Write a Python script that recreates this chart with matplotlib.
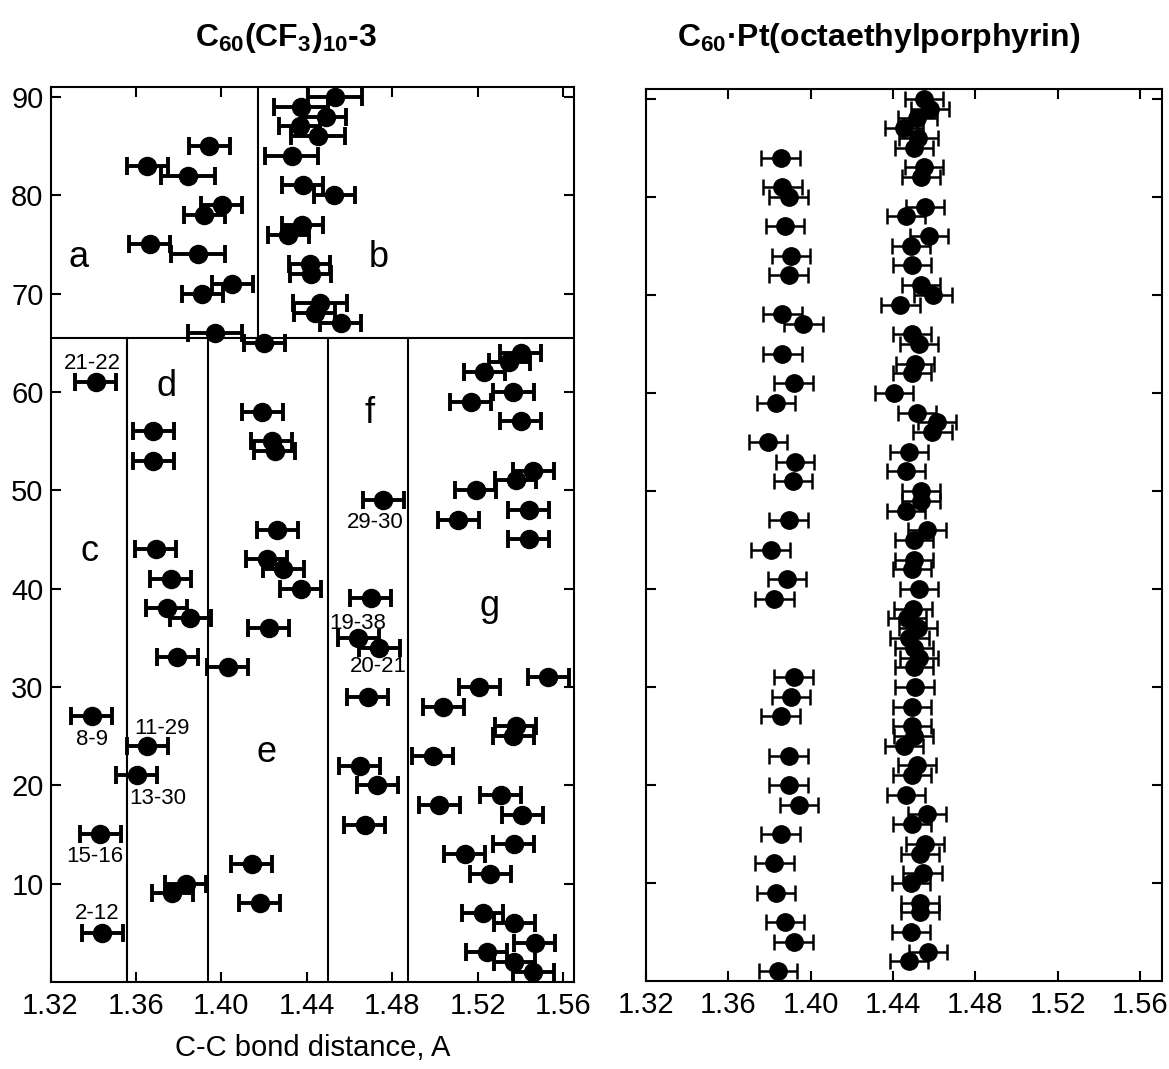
import matplotlib
matplotlib.use('Agg')
import matplotlib.pyplot as plt
import numpy as np

plt.rcParams['font.family'] = ['Liberation Sans', 'DejaVu Sans']
plt.rcParams['mathtext.default'] = 'regular'

# C60(CF3)10-3: bond length for bonds 1..90
cf3_len = [
    1.5459, 1.5370, 1.5241, 1.5467, 1.3442, 1.5370, 1.5222, 1.4180, 1.3770, 1.3833,
    1.5259, 1.4141, 1.5139, 1.5368, 1.3432, 1.4671, 1.5409, 1.5019, 1.5308, 1.4729,
    1.3603, 1.4648, 1.4988, 1.3653, 1.5365, 1.5378, 1.3393, 1.5038, 1.4684, 1.5206,
    1.5529, 1.4029, 1.3793, 1.4738, 1.4640, 1.4222, 1.3853, 1.3744, 1.4699, 1.4371,
    1.3762, 1.4289, 1.4211, 1.3692, 1.5439, 1.4261, 1.5108, 1.5439, 1.4757, 1.5191,
    1.5378, 1.5459, 1.3681, 1.4250, 1.4235, 1.3681, 1.5400, 1.4191, 1.5167, 1.5365,
    1.3411, 1.5229, 1.5347, 1.5400, 1.4200, 1.3970, 1.4559, 1.4437, 1.4461, 1.3910,
    1.4051, 1.4419, 1.4414, 1.3892, 1.3664, 1.4313, 1.4378, 1.3920, 1.4001, 1.4528,
    1.4380, 1.3845, 1.3653, 1.4328, 1.3942, 1.4453, 1.4367, 1.4489, 1.4372, 1.4531,
]
cf3_err = [
    0.0096, 0.0096, 0.0096, 0.0096, 0.0096, 0.0096, 0.0096, 0.0096, 0.0096, 0.0096,
    0.0096, 0.0096, 0.0096, 0.0096, 0.0096, 0.0096, 0.0096, 0.0096, 0.0096, 0.0096,
    0.0096, 0.0096, 0.0096, 0.0096, 0.0096, 0.0096, 0.0096, 0.0096, 0.0096, 0.0096,
    0.0096, 0.0096, 0.0096, 0.0096, 0.0096, 0.0096, 0.0096, 0.0096, 0.0096, 0.0096,
    0.0096, 0.0096, 0.0096, 0.0096, 0.0096, 0.0096, 0.0096, 0.0096, 0.0096, 0.0096,
    0.0096, 0.0096, 0.0096, 0.0096, 0.0096, 0.0096, 0.0096, 0.0096, 0.0096, 0.0096,
    0.0096, 0.0096, 0.0096, 0.0096, 0.0096, 0.0126, 0.0096, 0.0096, 0.0126, 0.0096,
    0.0096, 0.0096, 0.0096, 0.0126, 0.0096, 0.0096, 0.0096, 0.0096, 0.0096, 0.0096,
    0.0096, 0.0126, 0.0096, 0.0126, 0.0096, 0.0126, 0.0096, 0.0096, 0.0126, 0.0126,
]

# C60.Pt(OEP): bond length for bonds 1..90
pt_len = [
    1.3842, 1.4477, 1.4569, 1.3917, 1.4486, 1.3876, 1.4533, 1.4533, 1.3833, 1.4486,
    1.4544, 1.3824, 1.4533, 1.4557, 1.3854, 1.4494, 1.4565, 1.3943, 1.4464, 1.3893,
    1.4494, 1.4516, 1.3893, 1.4455, 1.4500, 1.4494, 1.3854, 1.4494, 1.3904, 1.4505,
    1.3917, 1.4503, 1.4525, 1.4503, 1.4480, 1.4521, 1.4468, 1.4498, 1.3824, 1.4525,
    1.3885, 1.4494, 1.4503, 1.3805, 1.4503, 1.4565, 1.3893, 1.4464, 1.4536, 1.4536,
    1.3913, 1.4464, 1.3925, 1.4477, 1.3792, 1.4592, 1.4613, 1.4516, 1.3833, 1.4406,
    1.3917, 1.4494, 1.4507, 1.3863, 1.4526, 1.4494, 1.3965, 1.3863, 1.4436, 1.4596,
    1.4536, 1.3893, 1.4494, 1.3904, 1.4486, 1.4574, 1.3876, 1.4464, 1.4557, 1.3893,
    1.3863, 1.4536, 1.4552, 1.3854, 1.4502, 1.4524, 1.4454, 1.4519, 1.4581, 1.4552,
]
pt_err = 0.0093

bond_no = np.arange(1, len(cf3_len) + 1)

# region letters and bond labels (text, x, y)
regions = [('a', 1.3330, 73.7), ('b', 1.4738, 73.7), ('c', 1.3382, 43.8),
           ('d', 1.3744, 60.5), ('e', 1.4211, 23.3), ('f', 1.4695, 57.8),
           ('g', 1.5256, 38.2)]
bond_labels = [('21-22', 1.3397, 62.9), ('29-30', 1.4721, 46.7),
               ('19-38', 1.4640, 36.4), ('20-21', 1.4734, 32.05),
               ('8-9', 1.3393, 24.7), ('11-29', 1.3720, 25.75),
               ('13-30', 1.3704, 18.65), ('15-16', 1.3408, 12.8),
               ('2-12', 1.3419, 7.0)]
split_y = 65.45
split_top_x = 1.4171
split_low_x = [1.3556, 1.3938, 1.4497, 1.4874]

xticks = [1.32, 1.36, 1.40, 1.44, 1.48, 1.52, 1.56]
yticks = [10, 20, 30, 40, 50, 60, 70, 80, 90]

fig = plt.figure(figsize=(11.69, 10.69), dpi=100)
ax1 = fig.add_axes([0.0432, 0.0814, 0.4478, 0.8372])
ax2 = fig.add_axes([0.5526, 0.0823, 0.4414, 0.8344])

ax1.errorbar(cf3_len, bond_no, xerr=cf3_err, fmt='o', color='black', ms=13,
             elinewidth=2.8, capsize=6.5, capthick=2.8)
ax2.errorbar(pt_len, bond_no, xerr=pt_err, fmt='o', color='black', ms=12.5,
             elinewidth=1.8, capsize=6, capthick=1.8)

ax1.set_xlim(1.32, 1.565)
ax1.set_ylim(0, 91)
ax2.set_xlim(1.32, 1.5707)
ax2.set_ylim(0, 91)

# dividing lines of the left panel
ax1.axhline(split_y, color='black', lw=1.5)
ax1.plot([split_top_x, split_top_x], [split_y, 91], color='black', lw=1.5)
for xv in split_low_x:
    ax1.plot([xv, xv], [0, split_y], color='black', lw=1.5)

for txt, xv, yv in regions:
    ax1.text(xv, yv, txt, fontsize=26, ha='center', va='center')
for txt, xv, yv in bond_labels:
    ax1.text(xv, yv, txt, fontsize=16, ha='center', va='center')

for ax in (ax1, ax2):
    ax.set_xticks(xticks)
    ax.set_xticklabels([f'{t:.2f}' for t in xticks])
    ax.set_yticks(yticks)
    ax.tick_params(direction='in', top=True, right=True, length=7, width=1.5,
                   labelsize=21, pad=7)
    for sp in ax.spines.values():
        sp.set_linewidth(1.5)
ax1.tick_params(axis='y', pad=5)
ax2.tick_params(axis='y', labelleft=False)

ax1.set_xlabel('C-C bond distance, A', fontsize=21, labelpad=10)

title_font = ['Liberation Sans Narrow', 'Liberation Sans']
fig.text(285.6 / 1169, 1 - 38 / 1069, r'C$_{60}$(CF$_3$)$_{10}$-3', fontsize=23,
         fontweight='bold', family=title_font, ha='center', va='center')
fig.text(879 / 1169, 1 - 38 / 1069, r'C$_{60}$·Pt(octaethylporphyrin)', fontsize=23,
         fontweight='bold', family=title_font, ha='center', va='center')

fig.savefig('out.png', dpi=100)
